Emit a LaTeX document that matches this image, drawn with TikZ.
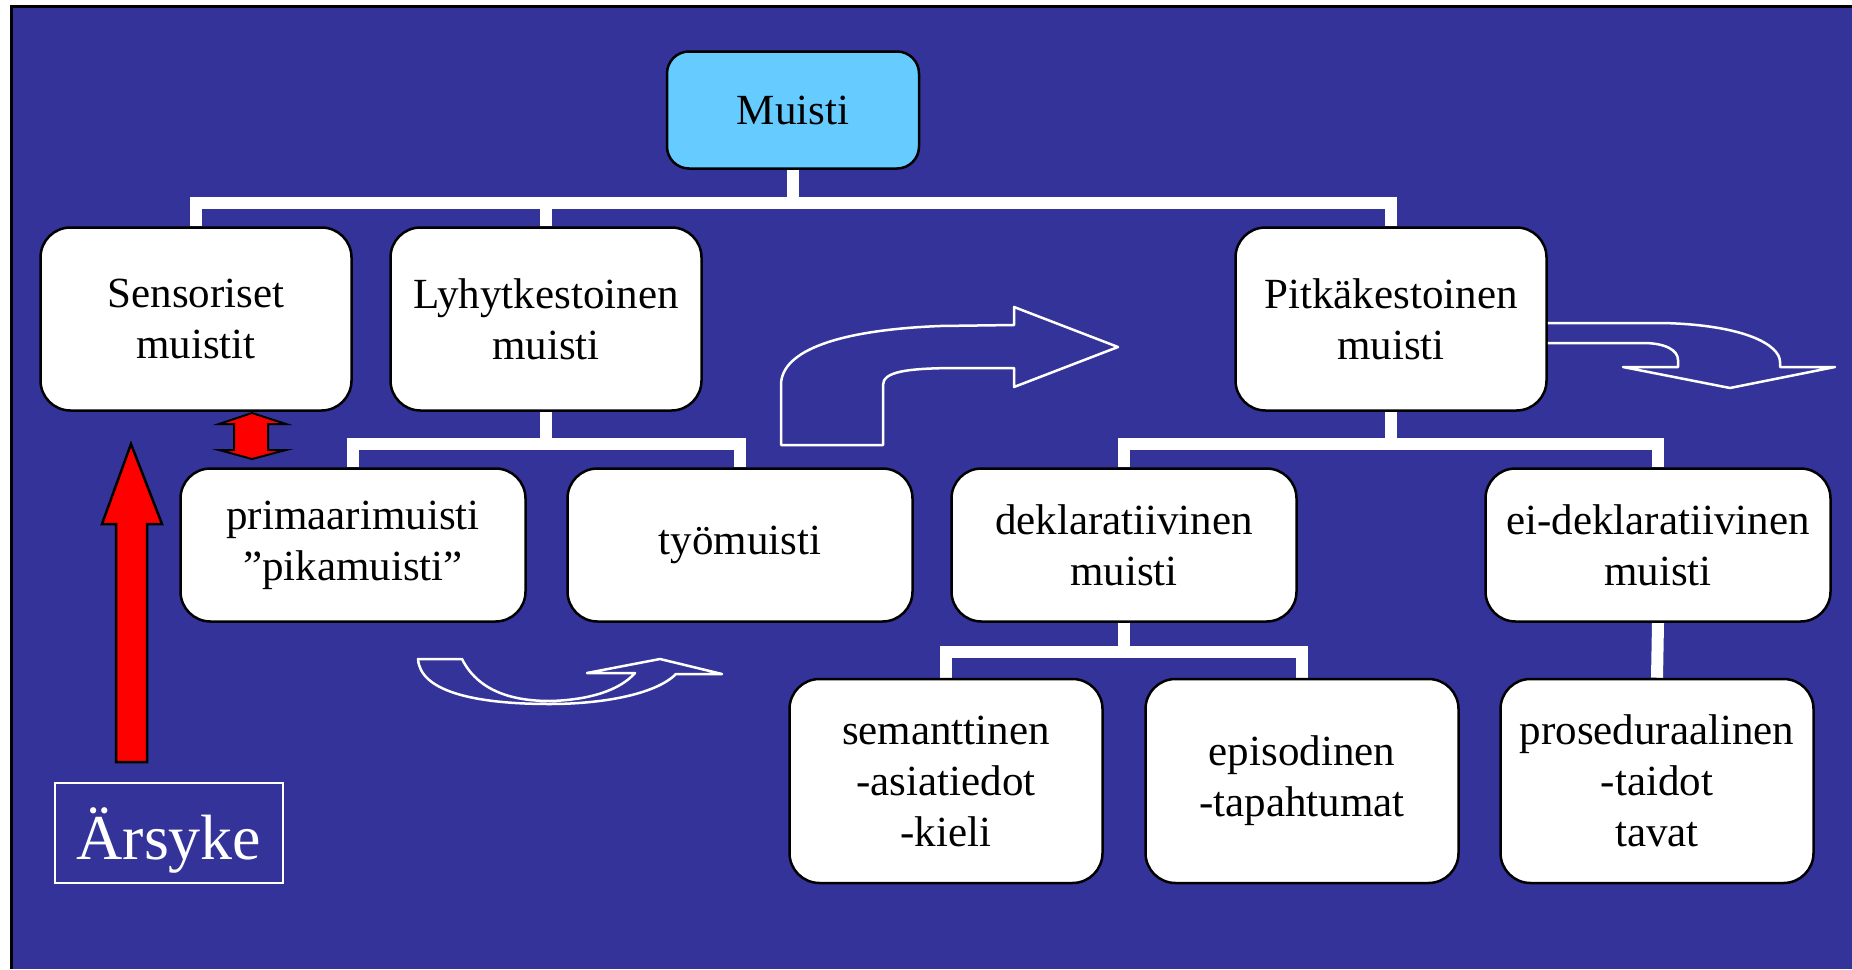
\documentclass[tikz,border=0pt]{standalone}
\usepackage{fontspec}
\setmainfont{Liberation Serif}
\usetikzlibrary{backgrounds}
\definecolor{slide}{RGB}{51,51,153}
\definecolor{skyfill}{RGB}{102,204,255}
\tikzset{
	memory/.style   = {draw, fill=white, line width=2.5pt, rectangle, rounded corners=30pt,
		align=center, inner sep=0pt, font=\fontsize{43}{51}\selectfont},
	wide/.style     = {memory, minimum width=311pt, minimum height=183pt},
	mid/.style      = {memory, minimum width=345pt, minimum height=153pt},
	tall/.style     = {memory, minimum width=313pt, minimum height=204pt},
	link/.style     = {draw=white, line width=12pt},
	hollow/.style   = {draw=white, line width=2.5pt, line join=round},
	redarrow/.style = {draw=black, fill=red, line width=2.5pt}
}

\begin{document}
\begin{tikzpicture}[x=1pt, y=-1pt]
\useasboundingbox (0,0) rectangle (1852,969);
\begin{pgfonlayer}{background}
\fill[white] (0,0) rectangle (1852,969);
\fill[slide] (11,6) rectangle (1852,969);
\draw[line width=3pt] (11,969) -- (11,6) -- (1852,6);
\end{pgfonlayer}

\node[memory, fill=skyfill, rounded corners=22pt, minimum width=252pt, minimum height=117pt] (muisti) at (793,110) {Muisti};
\node[wide] (sens)   at (196,319)  {Sensoriset\\muistit};
\node[wide] (lyhyt)  at (546,319)  {Lyhytkestoinen\\muisti};
\node[wide] (pitka)  at (1391,319) {Pitkäkestoinen\\muisti};
\node[mid]  (prim)   at (353,545)  {primaarimuisti\\”pikamuisti”};
\node[mid]  (tyo)    at (740,545)  {työmuisti};
\node[mid]  (dekl)   at (1124,545) {deklaratiivinen\\muisti};
\node[mid]  (eidekl) at (1658,545) {ei-deklaratiivinen\\muisti};
\node[tall] (sem)    at (946,781)  {semanttinen\\-asiatiedot\\-kieli};
\node[tall] (epi)    at (1302,781) {episodinen\\-tapahtumat};
\node[tall] (pros)   at (1657,781) {proseduraalinen\\-taidot\\tavat};
\node[draw=white, line width=2pt, minimum width=228pt, minimum height=100pt, text=white,
      text height=66pt, font=\fontsize{64}{64}\selectfont] (arsyke) at (169,833) {Ärsyke};

\coordinate (topbus)   at (793,203);
\coordinate (lyhytbus) at (546,444);
\coordinate (pitkabus) at (1391,444);
\coordinate (deklbus)  at (1124,652);

% tree lines
\begin{pgfonlayer}{background}
\draw[link] (muisti.south) -- (topbus);
\draw[link] (sens.north) |- (topbus) -| (pitka.north);
\draw[link] (lyhyt.north) -- (lyhyt.north |- topbus);
\draw[link] (lyhyt.south) -- (lyhytbus);
\draw[link] (prim.north) |- (lyhytbus) -| (tyo.north);
\draw[link] (pitka.south) -- (pitkabus);
\draw[link] (dekl.north) |- (pitkabus) -| (eidekl.north);
\draw[link] (dekl.south) -- (deklbus);
\draw[link] (sem.north) |- (deklbus) -| (epi.north);
\draw[link] (eidekl.south) -- (pros.north);
\end{pgfonlayer}

% red arrows
\draw[redarrow] (116,762) -- (116,524) -- (102,524) -- (131,444) -- (162,524)
  -- (147,524) -- (147,762) -- cycle;
\draw[redarrow, line width=2pt] (234,424) -- (219,424) -- (252,413) -- (286,424) -- (268,424)
  -- (268,450) -- (286,450) -- (252,459) -- (219,450) -- (234,450) -- cycle;

% hollow arrows
\draw[hollow] (781,445) -- (883,445) -- (883,385) .. controls (883,372) and (905,368) .. (960,368)
  -- (1014,368) -- (1014,387) -- (1118,347) -- (1014,307) -- (1014,325) -- (940,326)
  .. controls (840,330) and (781,350) .. (781,385) -- cycle;
\draw[hollow] (pitka.east |- 0,323) -- (1663,323) .. controls (1745,325) and (1780,345) .. (1780,362)
  -- (1780,367) -- (1835,367) -- (1730,388) -- (1623,367) -- (1678,367) -- (1678,360)
  .. controls (1678,350) and (1665,343) .. (1643,343) -- (pitka.east |- 0,343);
\draw[hollow] (418,659) -- (462,659) .. controls (480,695) and (520,701) .. (550,701)
  .. controls (590,700) and (620,690) .. (635,673) -- (587,673) -- (660,659) -- (722,674)
  -- (676,674) .. controls (655,695) and (600,704) .. (550,704)
  .. controls (470,704) and (420,690) .. (418,659) -- cycle;
\end{tikzpicture}
\end{document}
